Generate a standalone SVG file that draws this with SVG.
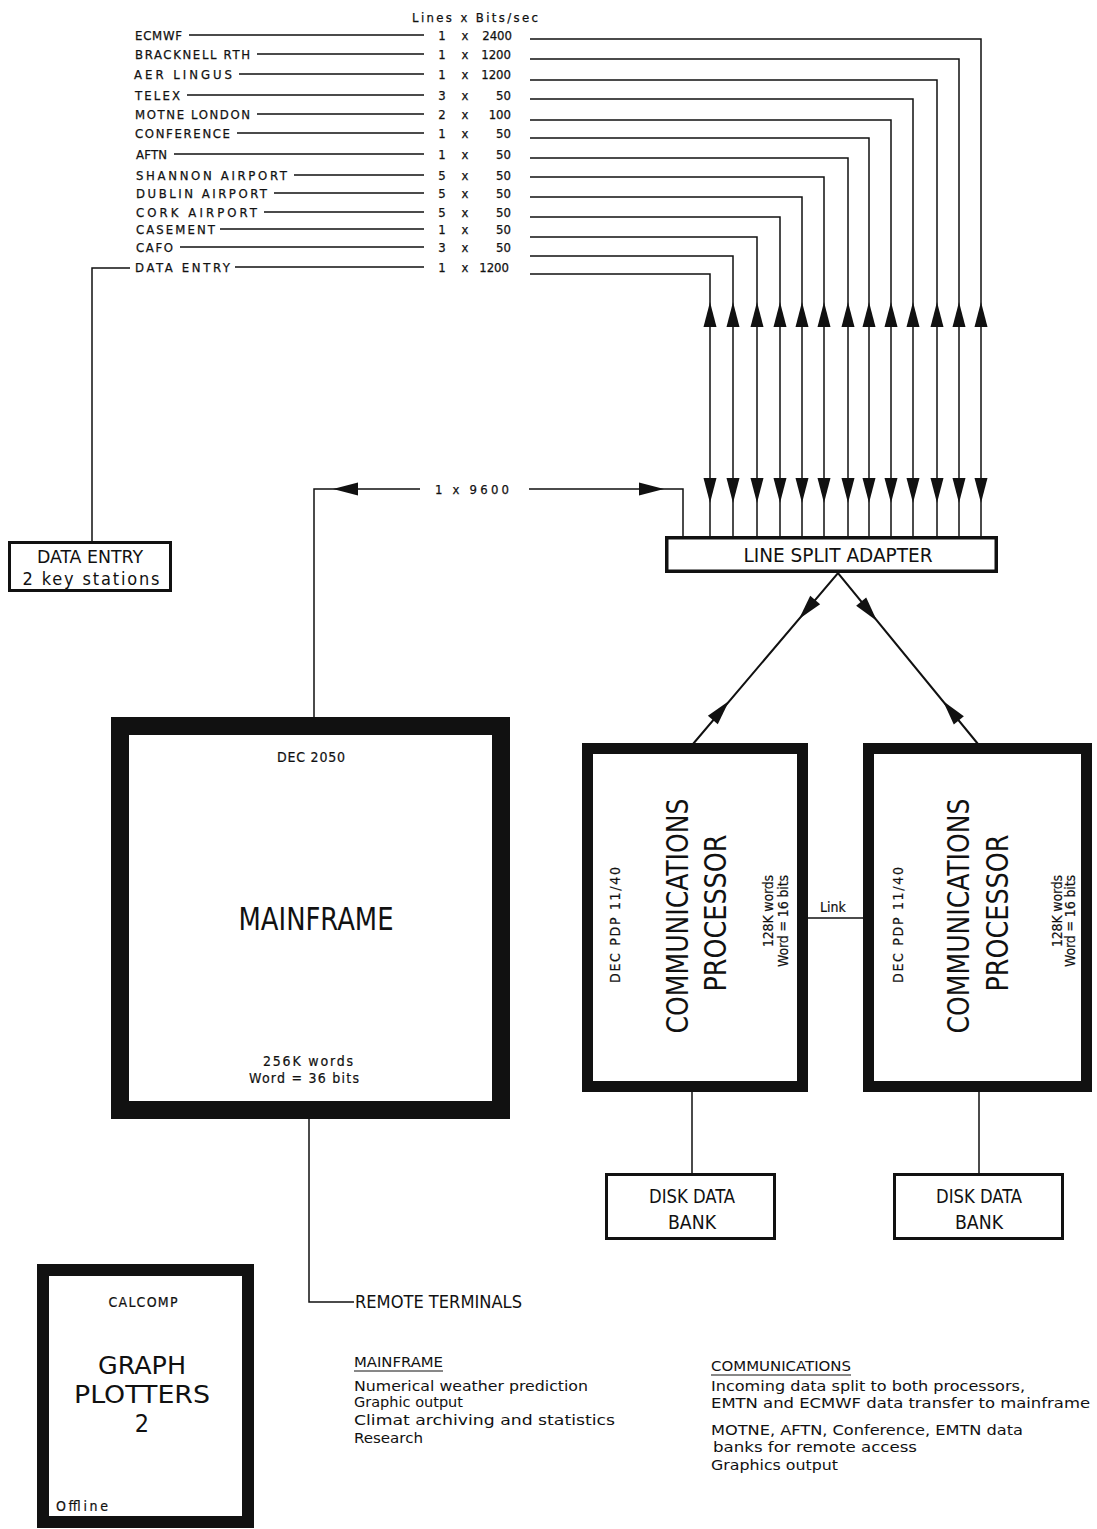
<svg xmlns="http://www.w3.org/2000/svg" xmlns:xlink="http://www.w3.org/1999/xlink" width="1097" height="1529" viewBox="0 0 1097 1529">
<style>
text{font-family:"DejaVu Sans Condensed","DejaVu Sans","Liberation Sans",sans-serif;fill:#111}
.lbl{font-size:13px;stroke:#111;stroke-width:0.25}
.sm{font-size:14px;stroke:#111;stroke-width:0.2}
.note{font-size:14px}
.big{font-size:30px}
.ln{stroke:#111;stroke-width:1.5;fill:none}
.box{fill:#fff;stroke:#111;stroke-width:3}
.thick{fill:#fff;stroke:#111}
.ah{fill:#111}
</style>
<defs>
<path id="ah" d="M0,0 L-25,-6.5 L-25,6.5 Z"/>
</defs>
<rect width="1097" height="1529" fill="#fff"/>

<g id="connectors">
<path class="ln" d="M189,35H424 M257,54H424 M239,74H424 M187,95H424 M257,114H424 M237,133H424 M174,154H424 M294,175H424 M274,193H424 M264,212H424 M220,229H424 M180,247H424 M235,267H424"/>
<path class="ln" d="M530,39H981V536 M530,59H959V536 M530,80H937V536 M530,99H913V536 M530,120H891V536 M530,138H869V536 M530,158H848V536 M530,177H824V536 M530,197H802V536 M530,217H780V536 M530,237H757V536 M530,256H733V536 M530,274H710V536"/>
<path class="ln" d="M130,268H92V542"/>
<path class="ln" d="M314,717V489H420 M529,489H683V537"/>
<use href="#ah" class="ah" transform="translate(333,489) rotate(180)"/>
<use href="#ah" class="ah" transform="translate(664,489)"/>
<g class="ah">
<use href="#ah" transform="translate(710,302) rotate(-90)"/><use href="#ah" transform="translate(710,503) rotate(90)"/>
<use href="#ah" transform="translate(733,302) rotate(-90)"/><use href="#ah" transform="translate(733,503) rotate(90)"/>
<use href="#ah" transform="translate(757,302) rotate(-90)"/><use href="#ah" transform="translate(757,503) rotate(90)"/>
<use href="#ah" transform="translate(780,302) rotate(-90)"/><use href="#ah" transform="translate(780,503) rotate(90)"/>
<use href="#ah" transform="translate(802,302) rotate(-90)"/><use href="#ah" transform="translate(802,503) rotate(90)"/>
<use href="#ah" transform="translate(824,302) rotate(-90)"/><use href="#ah" transform="translate(824,503) rotate(90)"/>
<use href="#ah" transform="translate(848,302) rotate(-90)"/><use href="#ah" transform="translate(848,503) rotate(90)"/>
<use href="#ah" transform="translate(869,302) rotate(-90)"/><use href="#ah" transform="translate(869,503) rotate(90)"/>
<use href="#ah" transform="translate(891,302) rotate(-90)"/><use href="#ah" transform="translate(891,503) rotate(90)"/>
<use href="#ah" transform="translate(913,302) rotate(-90)"/><use href="#ah" transform="translate(913,503) rotate(90)"/>
<use href="#ah" transform="translate(937,302) rotate(-90)"/><use href="#ah" transform="translate(937,503) rotate(90)"/>
<use href="#ah" transform="translate(959,302) rotate(-90)"/><use href="#ah" transform="translate(959,503) rotate(90)"/>
<use href="#ah" transform="translate(981,302) rotate(-90)"/><use href="#ah" transform="translate(981,503) rotate(90)"/>
</g>
<path class="ln" d="M693,744L838,573L978,744" style="stroke-width:2"/>
<use href="#ah" class="ah" transform="translate(799,619) rotate(130.3)"/>
<use href="#ah" class="ah" transform="translate(729,701) rotate(-49.7)"/>
<use href="#ah" class="ah" transform="translate(877,621) rotate(50.7)"/>
<use href="#ah" class="ah" transform="translate(943,701) rotate(-129.3)"/>
<path class="ln" d="M808,918H864"/>
<path class="ln" d="M692,1092V1173 M979,1092V1173"/>
<path class="ln" d="M309,1119V1302H354"/>
</g>

<g id="line-labels">
<text class="lbl" x="412" y="22" textLength="126" lengthAdjust="spacing">Lines x Bits/sec</text>
<text class="lbl" x="135" y="40" textLength="47" lengthAdjust="spacing">ECMWF</text>
<text class="lbl" x="135" y="59" textLength="115" lengthAdjust="spacing">BRACKNELL RTH</text>
<text class="lbl" x="134" y="79" textLength="98" lengthAdjust="spacing">AER LINGUS</text>
<text class="lbl" x="135" y="100" textLength="45" lengthAdjust="spacing">TELEX</text>
<text class="lbl" x="135" y="119" textLength="115" lengthAdjust="spacing">MOTNE LONDON</text>
<text class="lbl" x="135" y="138" textLength="95" lengthAdjust="spacing">CONFERENCE</text>
<text class="lbl" x="136" y="159" textLength="31" lengthAdjust="spacing">AFTN</text>
<text class="lbl" x="136" y="180" textLength="151" lengthAdjust="spacing">SHANNON AIRPORT</text>
<text class="lbl" x="136" y="198" textLength="131" lengthAdjust="spacing">DUBLIN AIRPORT</text>
<text class="lbl" x="136" y="217" textLength="121" lengthAdjust="spacing">CORK AIRPORT</text>
<text class="lbl" x="136" y="234" textLength="79" lengthAdjust="spacing">CASEMENT</text>
<text class="lbl" x="136" y="252" textLength="37" lengthAdjust="spacing">CAFO</text>
<text class="lbl" x="135" y="272" textLength="95" lengthAdjust="spacing">DATA ENTRY</text>
<g class="lbl" text-anchor="middle">
<text x="442" y="40">1</text><text x="465" y="40">x</text>
<text x="442" y="59">1</text><text x="465" y="59">x</text>
<text x="442" y="79">1</text><text x="465" y="79">x</text>
<text x="442" y="100">3</text><text x="465" y="100">x</text>
<text x="442" y="119">2</text><text x="465" y="119">x</text>
<text x="442" y="138">1</text><text x="465" y="138">x</text>
<text x="442" y="159">1</text><text x="465" y="159">x</text>
<text x="442" y="180">5</text><text x="465" y="180">x</text>
<text x="442" y="198">5</text><text x="465" y="198">x</text>
<text x="442" y="217">5</text><text x="465" y="217">x</text>
<text x="442" y="234">1</text><text x="465" y="234">x</text>
<text x="442" y="252">3</text><text x="465" y="252">x</text>
<text x="442" y="272">1</text><text x="465" y="272">x</text>
</g>
<g class="lbl" text-anchor="end">
<text x="512" y="40">2400</text>
<text x="511" y="59">1200</text>
<text x="511" y="79">1200</text>
<text x="511" y="100">50</text>
<text x="511" y="119">100</text>
<text x="511" y="138">50</text>
<text x="511" y="159">50</text>
<text x="511" y="180">50</text>
<text x="511" y="198">50</text>
<text x="511" y="217">50</text>
<text x="511" y="234">50</text>
<text x="511" y="252">50</text>
<text x="509" y="272">1200</text>
</g>
<text class="lbl" x="435" y="494" textLength="74" lengthAdjust="spacing">1 x 9600</text>
<text class="sm" x="833" y="912" text-anchor="middle">Link</text>
</g>

<g id="data-entry">
<rect class="box" x="9.5" y="542.5" width="161" height="48"/>
<text x="90" y="563" text-anchor="middle" style="font-size:18px" textLength="106" lengthAdjust="spacingAndGlyphs">DATA ENTRY</text>
<text x="91" y="585" text-anchor="middle" style="font-size:18px" textLength="137" lengthAdjust="spacing">2 key stations</text>
</g>

<g id="line-split-adapter">
<rect class="thick" x="666.75" y="537.75" width="329.5" height="33.5" style="stroke-width:3.5"/>
<text x="838" y="562" text-anchor="middle" style="font-size:20px" textLength="189" lengthAdjust="spacingAndGlyphs">LINE SPLIT ADAPTER</text>
</g>

<g id="mainframe">
<rect class="thick" x="120" y="726" width="381" height="384" style="stroke-width:18"/>
<text class="sm" x="311" y="762" text-anchor="middle" textLength="68" lengthAdjust="spacing">DEC 2050</text>
<text x="316" y="930" text-anchor="middle" style="font-size:32px" textLength="155" lengthAdjust="spacingAndGlyphs">MAINFRAME</text>
<text class="sm" x="308" y="1066" text-anchor="middle" textLength="90" lengthAdjust="spacing">256K words</text>
<text class="sm" x="304" y="1083" text-anchor="middle" textLength="110" lengthAdjust="spacing">Word = 36 bits</text>
</g>

<g id="comm-processor-1">
<rect class="thick" x="587.5" y="748.5" width="215" height="338" style="stroke-width:11"/>
<text class="sm" text-anchor="middle" transform="translate(620,925) rotate(-90)" textLength="116" lengthAdjust="spacing">DEC PDP 11/40</text>
<text class="big" text-anchor="middle" transform="translate(688,916) rotate(-90)" textLength="235" lengthAdjust="spacingAndGlyphs">COMMUNICATIONS</text>
<text class="big" text-anchor="middle" transform="translate(726,913) rotate(-90)" textLength="157" lengthAdjust="spacingAndGlyphs">PROCESSOR</text>
<text class="sm" text-anchor="middle" transform="translate(773,911) rotate(-90)" textLength="72" lengthAdjust="spacing">128K words</text>
<text class="sm" text-anchor="middle" transform="translate(788,921) rotate(-90)" textLength="92" lengthAdjust="spacing">Word = 16 bits</text>
</g>

<g id="comm-processor-2">
<rect class="thick" x="868.5" y="748.5" width="218" height="338" style="stroke-width:11"/>
<text class="sm" text-anchor="middle" transform="translate(903,925) rotate(-90)" textLength="116" lengthAdjust="spacing">DEC PDP 11/40</text>
<text class="big" text-anchor="middle" transform="translate(969,916) rotate(-90)" textLength="235" lengthAdjust="spacingAndGlyphs">COMMUNICATIONS</text>
<text class="big" text-anchor="middle" transform="translate(1008,913) rotate(-90)" textLength="157" lengthAdjust="spacingAndGlyphs">PROCESSOR</text>
<text class="sm" text-anchor="middle" transform="translate(1062,911) rotate(-90)" textLength="72" lengthAdjust="spacing">128K words</text>
<text class="sm" text-anchor="middle" transform="translate(1075,921) rotate(-90)" textLength="92" lengthAdjust="spacing">Word = 16 bits</text>
</g>

<g id="disk-1">
<rect class="box" x="606.5" y="1174.5" width="168" height="64"/>
<text x="692" y="1203" text-anchor="middle" style="font-size:20px" textLength="86" lengthAdjust="spacingAndGlyphs">DISK DATA</text>
<text x="692" y="1229" text-anchor="middle" style="font-size:20px" textLength="48" lengthAdjust="spacingAndGlyphs">BANK</text>
</g>

<g id="disk-2">
<rect class="box" x="894.5" y="1174.5" width="168" height="64"/>
<text x="979" y="1203" text-anchor="middle" style="font-size:20px" textLength="86" lengthAdjust="spacingAndGlyphs">DISK DATA</text>
<text x="979" y="1229" text-anchor="middle" style="font-size:20px" textLength="48" lengthAdjust="spacingAndGlyphs">BANK</text>
</g>

<g id="remote-terminals">
<text x="355" y="1308" style="font-size:17px" textLength="167" lengthAdjust="spacingAndGlyphs">REMOTE TERMINALS</text>
</g>

<g id="graph-plotters">
<rect class="thick" x="43" y="1270" width="205" height="252" style="stroke-width:12"/>
<text class="sm" x="143" y="1307" text-anchor="middle" textLength="69" lengthAdjust="spacing">CALCOMP</text>
<text x="142" y="1374" text-anchor="middle" style="font-size:25px" textLength="88" lengthAdjust="spacingAndGlyphs">GRAPH</text>
<text x="142" y="1403" text-anchor="middle" style="font-size:25px" textLength="136" lengthAdjust="spacingAndGlyphs">PLOTTERS</text>
<text x="142" y="1432" text-anchor="middle" style="font-size:25px">2</text>
<text class="sm" x="56" y="1511" textLength="52" lengthAdjust="spacing">Offline</text>
</g>

<g id="notes-mainframe">
<text class="note" x="354" y="1367" textLength="89" lengthAdjust="spacingAndGlyphs">MAINFRAME</text>
<path class="ln" d="M354,1371H443" style="stroke-width:1"/>
<text class="note" x="354" y="1391" textLength="234" lengthAdjust="spacingAndGlyphs">Numerical weather prediction</text>
<text class="note" x="354" y="1407" textLength="109" lengthAdjust="spacingAndGlyphs">Graphic output</text>
<text class="note" x="354" y="1425" textLength="261" lengthAdjust="spacingAndGlyphs">Climat archiving and statistics</text>
<text class="note" x="354" y="1443" textLength="69" lengthAdjust="spacingAndGlyphs">Research</text>
</g>

<g id="notes-communications">
<text class="note" x="711" y="1371" textLength="140" lengthAdjust="spacingAndGlyphs">COMMUNICATIONS</text>
<path class="ln" d="M711,1375H851" style="stroke-width:1"/>
<text class="note" x="711" y="1391" textLength="314" lengthAdjust="spacingAndGlyphs">Incoming data split to both processors,</text>
<text class="note" x="711" y="1408" textLength="379" lengthAdjust="spacingAndGlyphs">EMTN and ECMWF data transfer to mainframe</text>
<text class="note" x="711" y="1435" textLength="312" lengthAdjust="spacingAndGlyphs">MOTNE, AFTN, Conference, EMTN data</text>
<text class="note" x="713" y="1452" textLength="204" lengthAdjust="spacingAndGlyphs">banks for remote access</text>
<text class="note" x="711" y="1470" textLength="127" lengthAdjust="spacingAndGlyphs">Graphics output</text>
</g>
</svg>
